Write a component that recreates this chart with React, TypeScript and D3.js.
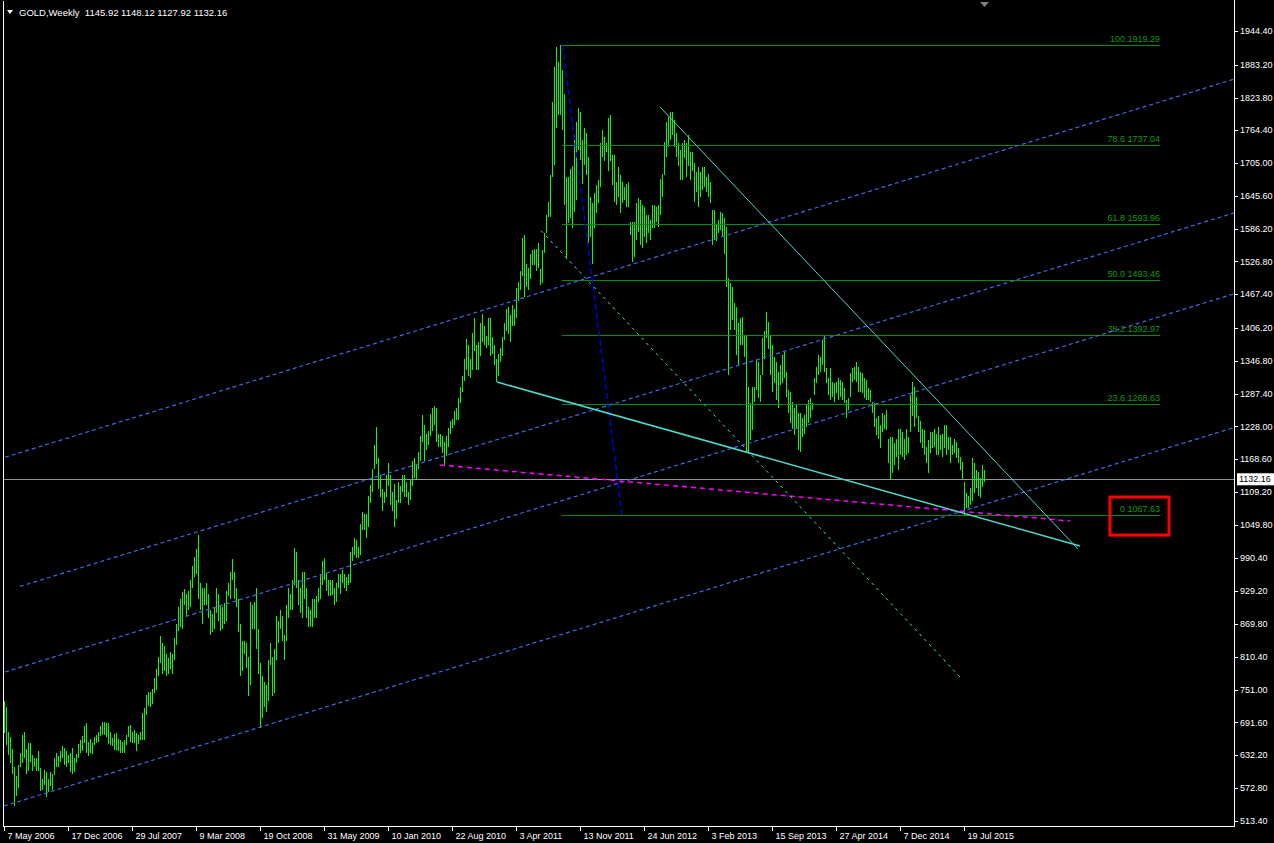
import React from "react";
import * as d3 from "d3";

// ---------- DATA (weekly bars, first week starts 7 May 2006) ----------
const highs2006 = [730,720,675,666,644,611,595,615,637,668,675,643,654,654,633,628,627,640,609,590,605,601,590,602,598,628,637,631,640,649,645,639,633,637,645];
const lows2006 = [673,650,633,618,598,540,558,573,611,619,627,598,604,620,604,610,604,604,568,570,578,557,566,576,570,596,610,610,620,628,615,611,618,602,598];
const highs2007 = [627,634,653,660,667,686,690,657,661,655,666,669,675,685,693,693,690,691,675,663,671,673,661,660,657,659,669,685,687,675,678,673,669,675,708,717,741,746,747,753,772,788,810,848,835,830,815,808,820,815,845,870];
const lows2007 = [601,618,628,637,640,654,637,631,637,634,651,654,657,667,669,669,665,653,651,649,642,642,640,637,637,637,651,665,657,654,654,640,653,659,659,659,705,721,719,725,745,750,775,800,780,785,775,780,788,780,805,832];
const highs2008 = [900,915,928,933,925,930,950,975,992,1005,1032,945,935,935,945,925,895,888,900,935,925,905,900,908,930,945,965,988,965,935,915,870,840,840,835,810,910,905,910,935,860,800,775,765,760,805,835,810,825,885,875,895];
const lows2008 = [858,865,860,905,882,895,900,935,955,960,915,895,870,905,905,880,850,855,860,890,875,858,860,870,875,920,915,950,915,900,855,775,785,815,790,740,760,860,860,825,780,681,700,720,710,730,795,740,745,805,835,860];
const highs2009 = [885,850,905,935,925,950,1007,1000,950,935,965,965,935,900,895,915,915,920,935,960,985,990,962,950,950,950,935,945,960,960,968,960,955,960,1000,1010,1025,1023,1010,1052,1072,1070,1070,1102,1122,1150,1195,1226,1170,1140,1115,1110];
const lows2009 = [840,805,840,880,895,895,940,935,905,890,880,915,880,865,865,865,880,880,910,915,940,950,930,920,920,922,905,910,935,925,945,935,930,940,945,985,995,990,990,995,1040,1040,1025,1045,1090,1110,1150,1160,1115,1100,1075,1090];
const highs2010 = [1140,1162,1140,1110,1124,1095,1128,1120,1140,1140,1128,1110,1130,1165,1170,1160,1182,1210,1249,1230,1215,1220,1250,1262,1265,1262,1215,1215,1210,1200,1210,1225,1238,1242,1256,1262,1280,1300,1320,1350,1387,1375,1350,1398,1424,1375,1380,1415,1432,1410,1392,1425];
const lows2010 = [1100,1120,1085,1075,1045,1060,1090,1090,1110,1100,1100,1085,1095,1120,1135,1130,1150,1165,1200,1165,1185,1195,1210,1220,1230,1200,1190,1190,1180,1157,1175,1190,1215,1225,1230,1240,1240,1270,1290,1310,1330,1320,1315,1330,1365,1330,1330,1355,1380,1375,1370,1375];
const highs2011 = [1425,1390,1375,1350,1360,1370,1390,1415,1440,1445,1430,1448,1440,1478,1490,1510,1570,1575,1522,1515,1540,1547,1550,1550,1560,1514,1548,1578,1611,1635,1683,1816,1880,1916,1889,1919.29,1874,1831,1680,1680,1695,1699,1756,1780,1804,1798,1747,1768,1759,1717,1644,1632];
const lows2011 = [1355,1360,1340,1308,1320,1345,1355,1385,1400,1395,1380,1410,1410,1425,1455,1475,1500,1462,1480,1475,1495,1520,1520,1510,1515,1484,1487,1542,1578,1608,1608,1680,1702,1768,1792,1792,1765,1629,1532,1596,1605,1587,1617,1638,1729,1711,1668,1702,1683,1560,1572,1523];
const highs2012 = [1650,1665,1674,1741,1765,1753,1741,1786,1792,1720,1720,1671,1698,1683,1671,1662,1668,1671,1599,1599,1599,1632,1641,1638,1629,1626,1611,1611,1602,1629,1629,1626,1629,1677,1686,1744,1780,1789,1798,1798,1783,1759,1741,1729,1741,1747,1741,1756,1726,1726,1705,1689,1698];
const lows2012 = [1587,1614,1632,1662,1717,1708,1726,1690,1708,1665,1635,1629,1644,1614,1632,1638,1626,1626,1575,1526,1535,1566,1581,1557,1551,1572,1560,1578,1566,1587,1587,1599,1590,1611,1644,1683,1717,1735,1747,1756,1735,1717,1699,1674,1674,1714,1680,1699,1674,1690,1635,1653,1626];
const highs2013 = [1689,1698,1698,1680,1686,1671,1620,1620,1593,1602,1617,1614,1605,1590,1496,1487,1481,1451,1445,1415,1424,1427,1393,1393,1300,1270,1300,1300,1348,1345,1321,1388,1400,1436,1418,1394,1375,1354,1345,1327,1339,1357,1363,1327,1294,1291,1273,1261,1267,1252,1252,1243];
const lows2013 = [1644,1656,1662,1653,1644,1632,1557,1566,1563,1578,1584,1572,1541,1481,1321,1403,1421,1403,1357,1339,1375,1375,1354,1182,1179,1203,1221,1273,1294,1279,1273,1321,1351,1388,1369,1321,1291,1306,1276,1261,1303,1306,1315,1282,1252,1234,1224,1212,1224,1185,1182,1209];
const highs2014 = [1249,1267,1276,1279,1270,1315,1336,1357,1354,1385,1394,1333,1315,1333,1309,1306,1309,1315,1312,1309,1297,1276,1279,1324,1333,1336,1345,1336,1327,1324,1315,1312,1297,1294,1273,1270,1243,1246,1231,1252,1249,1258,1206,1209,1209,1197,1206,1224,1224,1218,1206,1224];
const lows2014 = [1215,1227,1234,1243,1258,1285,1306,1321,1327,1339,1327,1306,1285,1276,1282,1273,1288,1276,1282,1276,1270,1243,1258,1282,1309,1312,1309,1291,1291,1288,1279,1276,1276,1273,1252,1227,1212,1206,1188,1218,1224,1221,1161,1131,1143,1158,1173,1149,1176,1173,1167,1176];
const highs2015 = [1209,1285,1309,1300,1282,1246,1237,1224,1221,1191,1203,1218,1218,1224,1215,1227,1212,1215,1230,1230,1209,1209,1194,1206,1200,1188,1173,1164,1128,1107,1101,1116,1170,1161,1149,1146,1134,1158,1148.12];
const lows2015 = [1179,1218,1246,1227,1243,1218,1197,1188,1176,1161,1143,1179,1188,1191,1176,1176,1185,1173,1188,1176,1185,1161,1176,1179,1170,1161,1149,1131,1067.63,1080,1080,1086,1092,1107,1116,1101,1098,1119,1127.92];

const symbol = "GOLD,Weekly";
const lastOHLC = [1145.92, 1148.12, 1127.92, 1132.16];
const currentPrice = 1132.16;

const xTickLabels = ["7 May 2006","17 Dec 2006","29 Jul 2007","9 Mar 2008","19 Oct 2008","31 May 2009","10 Jan 2010","22 Aug 2010","3 Apr 2011","13 Nov 2011","24 Jun 2012","3 Feb 2013","15 Sep 2013","27 Apr 2014","7 Dec 2014","19 Jul 2015"];
const weeksPerXTick = 32;
const yTickValues = [1944.40,1883.20,1823.80,1764.40,1705.00,1645.60,1586.20,1526.80,1467.40,1406.20,1346.80,1287.40,1228.00,1168.60,1109.20,1049.80,990.40,929.20,869.80,810.40,751.00,691.60,632.20,572.80,513.40];

const fibLevels = [100, 78.6, 61.8, 50.0, 38.2, 23.6, 0];
const fibPrices = [1919.29, 1737.04, 1593.96, 1493.46, 1392.97, 1268.63, 1067.63];
const fibWeekSpan = [279, 578];
const fibTrend = [{ w: 279.3, p: 1919.29 }, { w: 309, p: 1067.63 }];

const channelSlope = 1.115; // price per week
const channelStarts = [{ w: 0.5, p: 1172 }, { w: 8, p: 938 }, { w: 0.5, p: 783 }, { w: 0, p: 540.2 }];
const magentaLine = [{ w: 218, p: 1158 }, { w: 533, p: 1056.6 }];
const cyanUpper = [{ w: 328, p: 1806.7 }, { w: 537, p: 1005.8 }];
const cyanLower = [{ w: 246.5, p: 1308.4 }, { w: 538, p: 1011.3 }];
const cyanDotted = [{ w: 268.5, p: 1582.6 }, { w: 478, p: 773.9 }];
const highlightBox = { w0: 553, w1: 582.5, pTop: 1100, pBottom: 1031 };

// ---------- BUILD ----------
const highs = [...highs2006, ...highs2007, ...highs2008, ...highs2009, ...highs2010, ...highs2011, ...highs2012, ...highs2013, ...highs2014, ...highs2015];
const lows = [...lows2006, ...lows2007, ...lows2008, ...lows2009, ...lows2010, ...lows2011, ...lows2012, ...lows2013, ...lows2014, ...lows2015];
const bars = highs.map((h, i) => ({ w: i, h, l: lows[i] }));

const W = 1274, H = 843;
const plotLeft = 3, plotTop = 1, plotRight = 1234, plotBottom = 826;
const maxWeek = 615;
const x = d3.scaleLinear().domain([0, maxWeek]).range([4, 1234]);
const y = d3.scaleLinear().domain([572.8, 1944.4]).range([788, 31]);

const FONT = "'Liberation Sans', Arial, sans-serif";
const lineGen = d3.line<{ w: number; p: number }>().x(d => x(d.w)).y(d => y(d.p));

export default function App() {
  const lastW = bars.length - 1;
  const channels = channelStarts.map(s => [s, { w: maxWeek, p: s.p + channelSlope * (maxWeek - s.w) }]);
  return (
    <svg width={W} height={H} style={{ position: "absolute", left: 0, top: 0, background: "#000", display: "block" }}>
      <rect x={0} y={0} width={W} height={H} fill="#000" />
      <defs>
        <clipPath id="plotClip">
          <rect x={plotLeft} y={plotTop} width={plotRight - plotLeft} height={plotBottom - plotTop} />
        </clipPath>
      </defs>

      {/* current price line */}
      <line x1={plotLeft + 1} x2={plotRight} y1={Math.round(y(currentPrice)) + 0.5} y2={Math.round(y(currentPrice)) + 0.5} stroke="#8e949a" strokeWidth={1} />

      {/* bars */}
      <g shapeRendering="crispEdges">
        {bars.map(b => (
          <line key={b.w} x1={Math.round(x(b.w)) + 0.5} x2={Math.round(x(b.w)) + 0.5} y1={y(b.h)} y2={y(b.l)} stroke="#00ff00" strokeWidth={1} />
        ))}
      </g>

      <g clipPath="url(#plotClip)">
        {/* fibonacci levels */}
        {fibPrices.map((p, i) => (
          <g key={i}>
            <line x1={x(fibWeekSpan[0])} x2={x(fibWeekSpan[1])} y1={Math.round(y(p)) + 0.5} y2={Math.round(y(p)) + 0.5} stroke="#0a8a0a" strokeWidth={1} />
            <text x={x(fibWeekSpan[1])} y={y(p) - 3} textAnchor="end" fill="#119a11" fontFamily={FONT} fontSize={9}>
              {`${fibLevels[i] === 100 ? "100" : fibLevels[i] === 0 ? "0" : fibLevels[i].toFixed(1)} ${p.toFixed(2)}`}
            </text>
          </g>
        ))}
        {/* fib trend line */}
        <path d={lineGen(fibTrend) || ""} stroke="#0000ff" strokeWidth={1.2} strokeDasharray="6,3" fill="none" />

        {/* parallel channel lines */}
        {channels.map((c, i) => (
          <path key={i} d={lineGen(c) || ""} stroke="#4169e1" strokeWidth={1.2} strokeDasharray="4,3" fill="none" />
        ))}

        {/* magenta line */}
        <path d={lineGen(magentaLine) || ""} stroke="#ff00ff" strokeWidth={1.5} strokeDasharray="5,4" fill="none" />

        {/* cyan lines */}
        <path d={lineGen(cyanUpper) || ""} stroke="#4fd8cc" strokeWidth={1} fill="none" />
        <path d={lineGen(cyanLower) || ""} stroke="#4fd8cc" strokeWidth={1.5} fill="none" />
        <path d={lineGen(cyanDotted) || ""} stroke="#4fd8cc" strokeWidth={1} strokeDasharray="3,4" fill="none" />

        {/* highlight box */}
        <rect x={x(highlightBox.w0)} y={y(highlightBox.pTop)} width={x(highlightBox.w1) - x(highlightBox.w0)} height={y(highlightBox.pBottom) - y(highlightBox.pTop)} fill="none" stroke="#ff0000" strokeWidth={3} />
      </g>

      {/* frame / axes */}
      <g shapeRendering="crispEdges" stroke="#ffffff" strokeWidth={1}>
        <line x1={plotLeft + 0.5} x2={plotLeft + 0.5} y1={plotTop} y2={plotBottom} />
        <line x1={plotRight + 0.5} x2={plotRight + 0.5} y1={0} y2={plotBottom + 1} />
        <line x1={plotLeft} x2={plotRight + 1} y1={plotBottom + 0.5} y2={plotBottom + 0.5} />
      </g>

      {/* y axis */}
      {yTickValues.map(v => (
        <g key={v}>
          <line x1={plotRight} x2={plotRight + 4} y1={Math.round(y(v)) + 0.5} y2={Math.round(y(v)) + 0.5} stroke="#fff" shapeRendering="crispEdges" />
          <text x={plotRight + 6} y={y(v)} dy="0.35em" fill="#fff" fontFamily={FONT} fontSize={9}>{v.toFixed(2)}</text>
        </g>
      ))}
      {/* current price label */}
      <rect x={plotRight + 3} y={y(currentPrice) - 6} width={W - plotRight - 3} height={12} fill="#ffffff" />
      <text x={plotRight + 5} y={y(currentPrice)} dy="0.35em" fill="#000" fontFamily={FONT} fontSize={9}>{currentPrice.toFixed(2)}</text>

      {/* x axis */}
      {xTickLabels.map((lab, i) => {
        const xx = Math.round(x(i * weeksPerXTick)) + 0.5;
        return (
          <g key={lab}>
            <line x1={xx} x2={xx} y1={plotBottom} y2={plotBottom + 5} stroke="#fff" shapeRendering="crispEdges" />
            <text x={xx + 3} y={plotBottom + 13} fill="#fff" fontFamily={FONT} fontSize={9}>{lab}</text>
          </g>
        );
      })}

      {/* title */}
      <polygon points="7,10 13,10 10,14" fill="#fff" />
      <text x={19} y={15.5} fill="#fff" fontFamily={FONT} fontSize={9.5} style={{ whiteSpace: "pre" }}>
        {`${symbol}  ${lastOHLC.map(v => v.toFixed(2)).join(" ")}`}
      </text>

      {/* chart shift marker */}
      <polygon points={`${x(lastW) - 4},2 ${x(lastW) + 5},2 ${x(lastW) + 0.5},7`} fill="#7f7f7f" />
    </svg>
  );
}
